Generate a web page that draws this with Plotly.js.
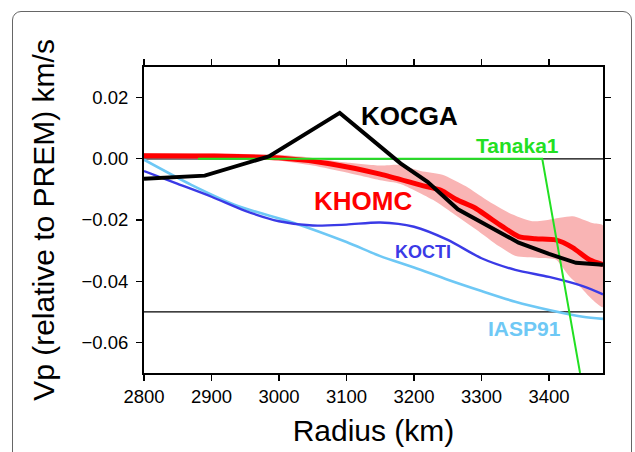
<!DOCTYPE html>
<html>
<head>
<meta charset="utf-8">
<script src="https://cdn.plot.ly/plotly-3.0.1.min.js"></script>
<style>
  html, body { margin: 0; padding: 0; background: #ffffff; }
  #frame { position: absolute; left: 12px; top: 11px; width: 620px; height: 470px;
           border: 1px solid #666; border-radius: 9px; box-sizing: border-box; }
  #chart { position: absolute; left: 0; top: 0; width: 635px; height: 452px; }
</style>
</head>
<body>
<div id="frame"></div>
<div id="chart"></div>
<script>
// ---- data (radius in km, Vp relative to PREM in km/s) ----
const kocgaR = [2800, 2890, 2985, 3090, 3180, 3220, 3265, 3315, 3355, 3400, 3440, 3480];
const kocgaV = [-0.0065, -0.0055, 0.0008, 0.0150, -0.0015, -0.0075, -0.0165, -0.0226, -0.0274, -0.0311, -0.0340, -0.0346];

const khomcR = [2800, 2900, 3000, 3075, 3150, 3210, 3240, 3262, 3290, 3310, 3330, 3355, 3380, 3410, 3435, 3460, 3480];
const khomcV = [0.0010, 0.0009, 0.0003, -0.0016, -0.0050, -0.0086, -0.0103, -0.0132, -0.0160, -0.0190, -0.0220, -0.0254, -0.0261, -0.0265, -0.0290, -0.0330, -0.0346];

const bandUpR = [2800, 2900, 3000, 3050, 3100, 3150, 3180, 3210, 3242, 3277, 3307, 3341, 3375, 3400, 3435, 3464, 3480];
const bandUpV = [0.0018, 0.0017, 0.0013, 0.0003, -0.0012, -0.0022, -0.0020, -0.0040, -0.0052, -0.0090, -0.0134, -0.0177, -0.0204, -0.0199, -0.0188, -0.0210, -0.0218];
const bandLoR = [2800, 2900, 3000, 3050, 3100, 3150, 3180, 3228, 3257, 3292, 3326, 3351, 3385, 3410, 3430, 3445, 3464, 3480];
const bandLoV = [0.0002, 0.0001, -0.0006, -0.0022, -0.0045, -0.0070, -0.0082, -0.0134, -0.0177, -0.0231, -0.0286, -0.0318, -0.0324, -0.0329, -0.0384, -0.0416, -0.0460, -0.0485];

const koctiR = [2800, 2850, 2900, 2950, 3000, 3050, 3100, 3150, 3200, 3250, 3300, 3350, 3400, 3450, 3480];
const koctiV = [-0.0040, -0.0082, -0.0124, -0.0170, -0.0204, -0.0218, -0.0215, -0.0208, -0.0222, -0.0265, -0.0325, -0.0363, -0.0386, -0.0416, -0.0443];

const iaspR = [2800, 2870, 2940, 3020, 3100, 3150, 3200, 3250, 3300, 3350, 3400, 3450, 3480];
const iaspV = [-0.0003, -0.0085, -0.0155, -0.0208, -0.0272, -0.0318, -0.0355, -0.0395, -0.0432, -0.0467, -0.0494, -0.0516, -0.0523];

const tanakaR = [2880, 3390, 3446];
const tanakaV = [0.0000, 0.0000, -0.0700];

const refLines = [0, -0.05];

const xTicks = [2800, 2900, 3000, 3100, 3200, 3300, 3400];
const yTicks = [0.02, 0.00, -0.02, -0.04, -0.06];

const labels = [
  {text: 'KOCGA',   r: 3194, v: 0.0140,  color: '#000000', size: 26},
  {text: 'Tanaka1', r: 3353, v: 0.0045,  color: '#22e022', size: 21},
  {text: 'KHOMC',   r: 3125, v: -0.0137, color: '#ff0000', size: 26},
  {text: 'KOCTI',   r: 3213, v: -0.0305, color: '#3a3ae6', size: 18},
  {text: 'IASP91',  r: 3364, v: -0.0554, color: '#6ec8f5', size: 21}
];

// ---- traces ----
const bandX = bandUpR.concat(bandLoR.slice().reverse());
const bandY = bandUpV.concat(bandLoV.slice().reverse());

const traces = [
  {x: bandX, y: bandY, type: 'scatter', mode: 'lines', fill: 'toself',
   fillcolor: '#f9b4b4', line: {width: 0, color: '#f9b4b4', shape: 'spline', smoothing: 0.6},
   hoverinfo: 'skip', showlegend: false},
  {x: iaspR, y: iaspV, type: 'scatter', mode: 'lines',
   line: {color: '#6ec8f5', width: 2.6, shape: 'spline', smoothing: 0.8}, showlegend: false},
  {x: koctiR, y: koctiV, type: 'scatter', mode: 'lines',
   line: {color: '#3a3ae6', width: 2.4, shape: 'spline', smoothing: 0.8}, showlegend: false},
  {x: khomcR, y: khomcV, type: 'scatter', mode: 'lines',
   line: {color: '#ff0000', width: 5, shape: 'spline', smoothing: 0.7}, showlegend: false},
  {x: tanakaR, y: tanakaV, type: 'scatter', mode: 'lines',
   line: {color: '#22e022', width: 2}, showlegend: false},
  {x: kocgaR, y: kocgaV, type: 'scatter', mode: 'lines',
   line: {color: '#000000', width: 4}, showlegend: false}
];

const shapes = refLines.map(v => ({
  type: 'line', xref: 'paper', x0: 0, x1: 1, yref: 'y', y0: v, y1: v,
  line: {color: '#000000', width: 1.2}, layer: 'below'
}));

const annotations = labels.map(l => ({
  x: l.r, y: l.v, xref: 'x', yref: 'y', text: '<b>' + l.text + '</b>', showarrow: false,
  xanchor: 'center', yanchor: 'middle',
  font: {family: 'Liberation Sans, Arial, sans-serif', size: l.size, color: l.color}
}));

const font = 'Liberation Sans, Arial, Helvetica, sans-serif';

const layout = {
  width: 635, height: 452,
  margin: {l: 144, r: 32, t: 67, b: 79},
  paper_bgcolor: 'rgba(0,0,0,0)',
  plot_bgcolor: '#ffffff',
  font: {family: font, color: '#000000'},
  xaxis: {
    range: [2800, 3480], tickvals: xTicks, ticktext: xTicks.map(String),
    showgrid: false, zeroline: false, showline: true, linecolor: '#000', linewidth: 2,
    mirror: 'ticks', ticks: 'outside', ticklen: 6, tickwidth: 1.3, tickcolor: '#000',
    tickfont: {family: font, size: 18.5, color: '#000'},
    title: {text: 'Radius (km)', font: {family: font, size: 30, color: '#000'}, standoff: 14},
    automargin: false
  },
  yaxis: {
    range: [-0.07, 0.03], tickvals: yTicks, ticktext: yTicks.map(v => v.toFixed(2).replace('-', '\u2212')),
    showgrid: false, zeroline: false, showline: true, linecolor: '#000', linewidth: 2,
    mirror: 'ticks', ticks: 'outside', ticklen: 6, tickwidth: 1.3, tickcolor: '#000',
    tickfont: {family: font, size: 18.5, color: '#000'}, ticklabelstandoff: 4,
    title: {text: 'Vp (relative to PREM) km/s', font: {family: font, size: 30, color: '#000'}, standoff: 18},
    automargin: false
  },
  shapes: shapes,
  annotations: annotations
};

Plotly.newPlot('chart', traces, layout, {staticPlot: true, displayModeBar: false});
</script>
</body>
</html>
